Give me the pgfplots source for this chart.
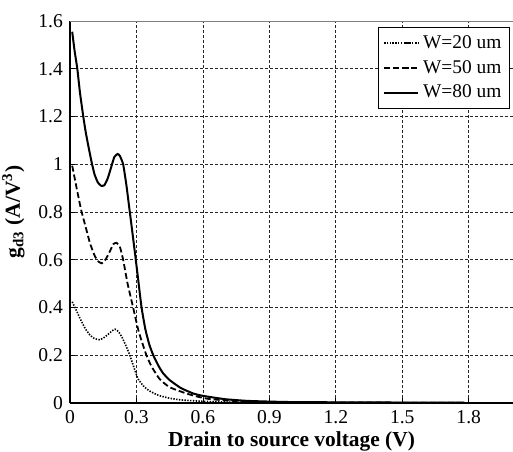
\documentclass[border=0pt]{standalone}
\usepackage{fontspec}
\setmainfont{Liberation Serif}
\usepackage{pgfplots}
\pgfplotsset{compat=1.18}

\begin{document}
\begin{tikzpicture}
\begin{axis}[
  scale only axis,
  width=221.5pt,height=191pt,
  xmin=0,xmax=2,ymin=0,ymax=1.6,
  xtick={0,0.3,0.6,0.9,1.2,1.5,1.8},
  ytick={0,0.2,0.4,0.6,0.8,1,1.2,1.4,1.6},
  axis x line*=bottom,axis y line*=left,
  axis line style={-,black,line width=0.6pt},
  tick align=inside,major tick length=2.5pt,
  tick style={black,line width=0.4pt},
  grid=major,
  major grid style={black!85,line width=0.4pt,dash pattern=on 1.5pt off 1pt},
  /pgf/number format/assume math mode=true,
  ticklabel style={font=\fontsize{9.8}{11}\selectfont},
  xlabel={\textbf{Drain to source voltage (V)}},
  ylabel={\textbf{g\textsubscript{d3} (A/V\textsuperscript{3})}},
  label style={font=\fontsize{10.7}{12}\selectfont},
  xlabel style={yshift=2.5pt},
  legend style={at={(0.993,0.985)},anchor=north east,draw=black,line width=0.5pt,
    font=\fontsize{9.7}{11}\selectfont,row sep=0.5pt,inner sep=2pt},
  legend cell align=left,
]
\addplot[black,line width=0.8pt,dash pattern=on 0.7pt off 0.7pt,smooth,tension=0.3] coordinates {
(0.01,0.424) (0.03,0.385) (0.05,0.345) (0.07,0.31) (0.09,0.285) (0.11,0.27)
(0.135,0.265) (0.155,0.275) (0.175,0.29) (0.19,0.302) (0.203,0.309) (0.218,0.30)
(0.235,0.275) (0.255,0.235) (0.27,0.20) (0.29,0.145) (0.308,0.10) (0.335,0.068)
(0.36,0.05) (0.40,0.032) (0.45,0.02) (0.50,0.013) (0.60,0.007) (0.70,0.004)
(0.80,0.003) (0.90,0.002) (1.2,0.001) (1.78,0.001)};
\addlegendentry{W=20 um}
\addplot[black,line width=0.9pt,dash pattern=on 3pt off 1.5pt,smooth,tension=0.3] coordinates {
(0.01,0.994) (0.03,0.90) (0.05,0.81) (0.072,0.733) (0.09,0.67) (0.11,0.62)
(0.125,0.595) (0.143,0.585) (0.16,0.60) (0.18,0.635) (0.195,0.665) (0.21,0.671)
(0.225,0.655) (0.24,0.60) (0.26,0.50) (0.285,0.40) (0.31,0.30) (0.345,0.20)
(0.37,0.15) (0.405,0.10) (0.45,0.066) (0.525,0.04) (0.57,0.028) (0.62,0.018)
(0.70,0.011) (0.80,0.006) (0.90,0.004) (1.2,0.002) (1.78,0.001)};
\addlegendentry{W=50 um}
\addplot[black,line width=1pt,smooth,tension=0.3] coordinates {
(0.01,1.555) (0.02,1.48) (0.033,1.40) (0.045,1.30) (0.06,1.20) (0.07,1.14)
(0.08,1.09) (0.095,1.02) (0.11,0.96) (0.125,0.925) (0.14,0.91) (0.155,0.912)
(0.17,0.94) (0.185,0.985) (0.20,1.03) (0.215,1.043) (0.225,1.035) (0.24,1.00)
(0.255,0.91) (0.27,0.80) (0.285,0.69) (0.297,0.60) (0.31,0.50) (0.323,0.40)
(0.34,0.31) (0.358,0.245) (0.376,0.20) (0.40,0.155) (0.42,0.125) (0.45,0.096)
(0.50,0.063) (0.556,0.04) (0.60,0.03) (0.70,0.016) (0.80,0.009) (0.90,0.006)
(1.0,0.004) (1.2,0.003) (1.5,0.002) (1.78,0.002)};
\addlegendentry{W=80 um}
\draw[gray,line width=0.6pt] (rel axis cs:0,1) -- (rel axis cs:1,1);
\coordinate (bl) at (rel axis cs:0,0);
\coordinate (tr) at (rel axis cs:1,1);
\end{axis}
\pgfresetboundingbox
\path (bl) ++(-35pt,-24pt) rectangle (tr) ++(0pt,10.5pt);
\end{tikzpicture}
\end{document}
